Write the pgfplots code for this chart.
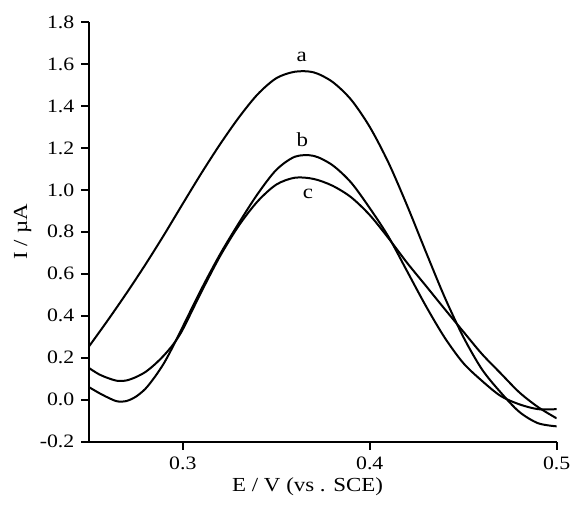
\documentclass[border=0pt]{standalone}
\usepackage{fontspec}
\setmainfont{Liberation Serif}[FakeStretch=1.15]
\usepackage{pgfplots}
\pgfplotsset{compat=1.18}

\begin{document}
\begin{tikzpicture}
\begin{axis}[
  scale only axis, width=233.7bp, height=209.85bp,
  xmin=0.25, xmax=0.5, ymin=-0.2, ymax=1.8,
  axis lines=left, axis line style={-, line width=1bp},
  tick align=outside, major tick length=4bp,
  tick style={line width=1bp, black},
  xtick={0.3,0.4,0.5},
  ytick={-0.2,0,0.2,0.4,0.6,0.8,1.0,1.2,1.4,1.6,1.8},
  minor tick num=0,
  tick label style={font=\fontsize{9.5}{11}\selectfont},
  /pgf/number format/.cd, fixed, fixed zerofill, precision=1, assume math mode=true,
  /pgfplots/.cd,
  xlabel={E / V (vs . SCE)},
  ylabel={I / µA},
  label style={font=\fontsize{10}{12}\selectfont},
  xlabel style={at={(axis description cs:0.467,-0.119)}, anchor=base},
  ylabel style={at={(axis description cs:-0.1333,0.5)}, anchor=base},
]
% curve a
\addplot[black, no markers, line width=1bp, smooth] coordinates {
(0.250,0.256) (0.260,0.380) (0.270,0.509) (0.280,0.644) (0.290,0.786)
(0.300,0.934) (0.310,1.080) (0.320,1.218) (0.330,1.345) (0.340,1.455)
(0.350,1.532) (0.360,1.563) (0.370,1.560) (0.380,1.515) (0.390,1.430)
(0.400,1.300) (0.410,1.130) (0.420,0.925) (0.430,0.705) (0.440,0.490)
(0.450,0.300) (0.460,0.145) (0.470,0.035) (0.480,-0.058) (0.490,-0.112)
(0.500,-0.127)
};
% curve b
\addplot[black, no markers, line width=1bp, smooth] coordinates {
(0.250,0.059) (0.255,0.033) (0.260,0.010) (0.265,-0.008) (0.270,-0.006)
(0.275,0.015) (0.280,0.052) (0.285,0.108) (0.290,0.175) (0.295,0.258)
(0.300,0.348) (0.310,0.528) (0.320,0.694) (0.330,0.842) (0.340,0.980)
(0.350,1.095) (0.360,1.158) (0.370,1.162) (0.380,1.118) (0.390,1.035)
(0.400,0.913) (0.410,0.777) (0.420,0.612) (0.430,0.447) (0.440,0.297)
(0.450,0.175) (0.460,0.090) (0.470,0.018) (0.480,-0.022) (0.490,-0.045)
(0.500,-0.045)
};
% curve c
\addplot[black, no markers, line width=1bp, smooth] coordinates {
(0.250,0.150) (0.255,0.122) (0.260,0.103) (0.265,0.090) (0.270,0.092)
(0.275,0.108) (0.280,0.132) (0.285,0.168) (0.290,0.212) (0.295,0.265)
(0.300,0.335) (0.310,0.515) (0.320,0.685) (0.330,0.830) (0.340,0.945)
(0.350,1.025) (0.360,1.058) (0.370,1.052) (0.380,1.020) (0.390,0.965)
(0.400,0.880) (0.410,0.770) (0.420,0.652) (0.430,0.543) (0.440,0.433)
(0.450,0.325) (0.460,0.218) (0.470,0.126) (0.480,0.035) (0.490,-0.035)
(0.500,-0.089)
};
\node[anchor=base, font=\fontsize{10}{12}\selectfont] at (axis cs:0.3636,1.611) {a};
\node[anchor=base, font=\fontsize{10}{12}\selectfont] at (axis cs:0.3639,1.209) {b};
\node[anchor=base, font=\fontsize{10}{12}\selectfont] at (axis cs:0.3669,0.960) {c};
\coordinate (bl) at (rel axis cs:-0.1911,-0.158);
\coordinate (tr) at (rel axis cs:1.0349,1.0524);
\end{axis}
\pgfresetboundingbox
\path[use as bounding box] (bl) rectangle (tr);
\end{tikzpicture}
\end{document}
